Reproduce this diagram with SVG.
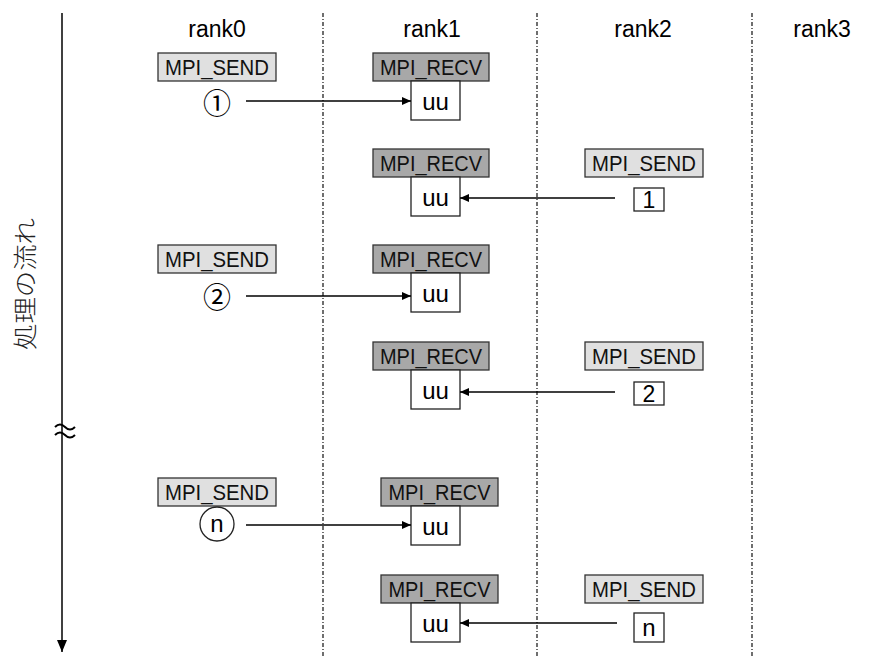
<svg xmlns="http://www.w3.org/2000/svg" width="894" height="657" viewBox="0 0 894 657">
  <defs>
    <marker id="ah" markerWidth="10" markerHeight="10" refX="9" refY="5" orient="auto" markerUnits="userSpaceOnUse">
      <path d="M0,1 L9,5 L0,9 Z" fill="#000"/>
    </marker>
    <marker id="axisHead" markerWidth="12" markerHeight="14" refX="5" refY="12" orient="0" markerUnits="userSpaceOnUse">
      <path d="M0,0 L10,0 L5,12 Z" fill="#000"/>
    </marker>
  </defs>
  <style>
    .rank { font-family: "Liberation Sans", Arial, sans-serif; font-size: 23px; text-anchor: middle; fill: #000; }
    .send { fill: #e0e0e0; stroke: #333; stroke-width: 1.3; }
    .recv { fill: #a8a8a8; stroke: #333; stroke-width: 1.3; }
    .buf { fill: #fff; stroke: #222; stroke-width: 1.3; }
    .lbl { font-family: "Liberation Sans", Arial, sans-serif; font-size: 22px; text-anchor: middle; fill: #111; }
    .uu { font-family: "Liberation Sans", Arial, sans-serif; font-size: 24px; text-anchor: middle; fill: #000; }
    .num { font-family: "Liberation Sans", "Noto Sans CJK JP", sans-serif; font-size: 23px; text-anchor: middle; fill: #000; }
    .circ { font-family: "Noto Sans CJK JP", "DejaVu Sans", sans-serif; font-size: 28px; text-anchor: middle; fill: #000; }
    .sep { stroke: #222; stroke-width: 1.3; stroke-dasharray: 4 2 1 2; fill: none; }
    .msg { stroke: #000; stroke-width: 1.3; fill: none; marker-end: url(#ah); }
    .vt { font-family: "Noto Sans CJK JP", sans-serif; font-size: 24px; font-weight: 300; fill: #222; }
  </style>

  <rect width="894" height="657" fill="#fff"/>

  <!-- time axis -->
  <g id="axis">
    <line x1="62" y1="13" x2="62" y2="652" stroke="#000" stroke-width="1.5" marker-end="url(#axisHead)"/>
    <path d="M55,427 q5,-5 10,0 t10,0 M55,435 q5,-5 10,0 t10,0" stroke="#000" stroke-width="2" fill="none"/>
    <text class="vt" transform="translate(23,284) rotate(-90)" text-anchor="middle" dominant-baseline="central" textLength="132" lengthAdjust="spacingAndGlyphs">処理の流れ</text>
  </g>

  <!-- rank columns -->
  <g id="columns">
    <line class="sep" x1="323" y1="13" x2="323" y2="657"/>
    <line class="sep" x1="537" y1="13" x2="537" y2="657"/>
    <line class="sep" x1="752" y1="13" x2="752" y2="657"/>
    <text class="rank" x="217" y="37">rank0</text>
    <text class="rank" x="432" y="37">rank1</text>
    <text class="rank" x="643" y="37">rank2</text>
    <text class="rank" x="822" y="37">rank3</text>
  </g>

  <!-- step 1: rank0 -> rank1 -->
  <g id="send0-1">
    <rect class="send" x="158" y="53" width="118" height="28"/>
    <text class="lbl" x="217" y="75" textLength="104" lengthAdjust="spacingAndGlyphs">MPI_SEND</text>
    <text class="circ" x="217" y="102" dominant-baseline="central">①</text>
  </g>
  <g id="recv1-1">
    <rect class="recv" x="373" y="53" width="116" height="28"/>
    <text class="lbl" x="431" y="75" textLength="102" lengthAdjust="spacingAndGlyphs">MPI_RECV</text>
    <rect class="buf" x="411" y="81" width="49" height="39"/>
    <text class="uu" x="435.5" y="110">uu</text>
  </g>

  <!-- step 2: rank2 -> rank1 -->
  <g id="recv1-2">
    <rect class="recv" x="373" y="149" width="116" height="28"/>
    <text class="lbl" x="431" y="171" textLength="102" lengthAdjust="spacingAndGlyphs">MPI_RECV</text>
    <rect class="buf" x="411" y="177" width="49" height="39"/>
    <text class="uu" x="435.5" y="206">uu</text>
  </g>
  <g id="send2-1">
    <rect class="send" x="585" y="149" width="118" height="28"/>
    <text class="lbl" x="644" y="171" textLength="104" lengthAdjust="spacingAndGlyphs">MPI_SEND</text>
    <rect class="buf" x="634" y="188" width="30" height="23"/>
    <text class="num" x="649" y="208">1</text>
  </g>

  <!-- step 3: rank0 -> rank1 -->
  <g id="send0-2">
    <rect class="send" x="158" y="245" width="118" height="28"/>
    <text class="lbl" x="217" y="267" textLength="104" lengthAdjust="spacingAndGlyphs">MPI_SEND</text>
    <text class="circ" x="217" y="296" dominant-baseline="central">②</text>
  </g>
  <g id="recv1-3">
    <rect class="recv" x="373" y="245" width="116" height="28"/>
    <text class="lbl" x="431" y="267" textLength="102" lengthAdjust="spacingAndGlyphs">MPI_RECV</text>
    <rect class="buf" x="411" y="273" width="49" height="39"/>
    <text class="uu" x="435.5" y="302">uu</text>
  </g>

  <!-- step 4: rank2 -> rank1 -->
  <g id="recv1-4">
    <rect class="recv" x="373" y="342" width="116" height="28"/>
    <text class="lbl" x="431" y="364" textLength="102" lengthAdjust="spacingAndGlyphs">MPI_RECV</text>
    <rect class="buf" x="411" y="370" width="49" height="39"/>
    <text class="uu" x="435.5" y="399">uu</text>
  </g>
  <g id="send2-2">
    <rect class="send" x="585" y="342" width="118" height="28"/>
    <text class="lbl" x="644" y="364" textLength="104" lengthAdjust="spacingAndGlyphs">MPI_SEND</text>
    <rect class="buf" x="634" y="382" width="30" height="23"/>
    <text class="num" x="649" y="402">2</text>
  </g>

  <!-- step n: rank0 -> rank1 -->
  <g id="send0-n">
    <rect class="send" x="158" y="478" width="118" height="28"/>
    <text class="lbl" x="217" y="500" textLength="104" lengthAdjust="spacingAndGlyphs">MPI_SEND</text>
    <circle cx="217" cy="524" r="17" fill="#fff" stroke="#222" stroke-width="1.3"/>
    <text class="uu" x="217" y="532">n</text>
  </g>
  <g id="recv1-n">
    <rect class="recv" x="381" y="478" width="117" height="28"/>
    <text class="lbl" x="439.5" y="500" textLength="102" lengthAdjust="spacingAndGlyphs">MPI_RECV</text>
    <rect class="buf" x="411" y="506" width="49" height="39"/>
    <text class="uu" x="435.5" y="535">uu</text>
  </g>

  <!-- step n: rank2 -> rank1 -->
  <g id="recv1-n2">
    <rect class="recv" x="381" y="575" width="117" height="28"/>
    <text class="lbl" x="439.5" y="597" textLength="102" lengthAdjust="spacingAndGlyphs">MPI_RECV</text>
    <rect class="buf" x="411" y="603" width="49" height="39"/>
    <text class="uu" x="435.5" y="632">uu</text>
  </g>
  <g id="send2-n">
    <rect class="send" x="585" y="575" width="118" height="28"/>
    <text class="lbl" x="644" y="597" textLength="104" lengthAdjust="spacingAndGlyphs">MPI_SEND</text>
    <rect class="buf" x="634" y="613" width="30" height="29"/>
    <text class="uu" x="649" y="636">n</text>
  </g>

  <!-- message arrows -->
  <g id="connectors">
    <line class="msg" x1="246" y1="101" x2="411" y2="101"/>
    <line class="msg" x1="615" y1="198" x2="460" y2="198"/>
    <line class="msg" x1="246" y1="296" x2="411" y2="296"/>
    <line class="msg" x1="615" y1="392" x2="460" y2="392"/>
    <line class="msg" x1="246" y1="525" x2="411" y2="525"/>
    <line class="msg" x1="617" y1="623" x2="460" y2="623"/>
  </g>
</svg>
